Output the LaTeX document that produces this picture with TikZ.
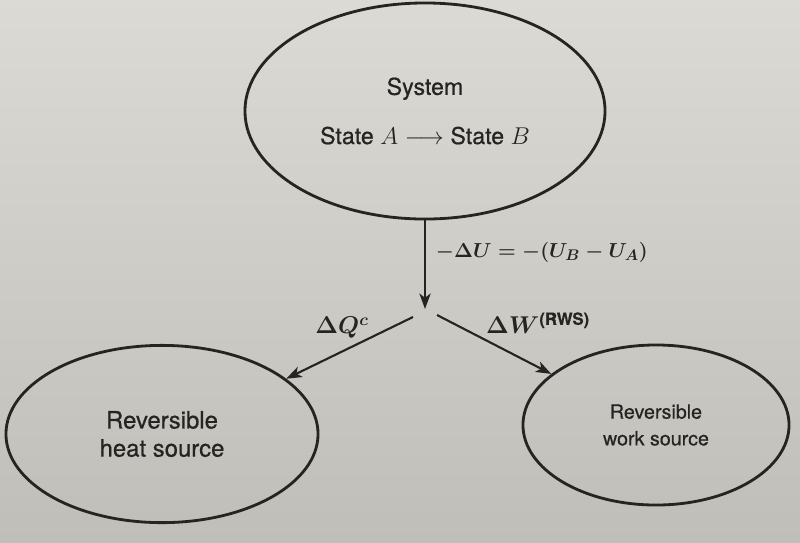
\documentclass[tikz,border=0pt]{standalone}
\usepackage{amsmath}
\usepackage{fontspec}
\setmainfont{TeX Gyre Heros}[FakeBold=0.6]
\usetikzlibrary{arrows.meta,shapes.geometric}
\definecolor{paper}{RGB}{220,218,212}
\definecolor{paperdark}{RGB}{192,190,184}
\definecolor{ink}{RGB}{38,36,34}
\tikzset{
  bubble/.style={ellipse, draw=ink, line width=2pt, inner sep=0pt, align=center, text=ink},
  flow/.style={-{Stealth[length=11pt,width=8pt,inset=3pt]}, line width=1.5pt, draw=ink},
  flowlabel/.style={font=\fontsize{17}{20}\selectfont\boldmath, text=ink}
}

\begin{document}
\begin{tikzpicture}[x=0.025cm, y=-0.025cm]
  \shade[top color=paper, bottom color=paperdark] (0,0) rectangle (800,542);
  \useasboundingbox (0,0) rectangle (800,542);
  % the three ellipses
  \node[bubble, minimum width=9cm, minimum height=5.4cm, font=\fontsize{16.5}{35}\selectfont] (sys) at (425,111) {System\\State $A\longrightarrow$ State $B$};
  \node[bubble, minimum width=7.8cm, minimum height=4.43cm, font=\fontsize{17}{20}\selectfont] (heat) at (162,434) {Reversible\\heat source};
  \node[bubble, minimum width=6.65cm, minimum height=4cm, font=\fontsize{14}{19}\selectfont] (work) at (656,425) {Reversible\\work source};
  % flows
  \coordinate (split) at (425,309);
  \coordinate (qstart) at (413,317);
  \coordinate (wstart) at (437,315);
  \draw[flow] (sys.south) -- (split);
  \draw[flow] (qstart) -- (heat.24);
  \draw[flow] (wstart) -- (work.154);
  \node[flowlabel, anchor=west, font=\fontsize{15}{18}\selectfont\boldmath] (du) at (431,252) {$-\Delta U = -(U_B - U_A)$};
  \node[flowlabel] (dq) at (342,328) {$\Delta Q^{c}$};
  \node[flowlabel] (dw) at (538,323) {$\Delta W^{\text{\bfseries (RWS)}}$};
\end{tikzpicture}
\end{document}
